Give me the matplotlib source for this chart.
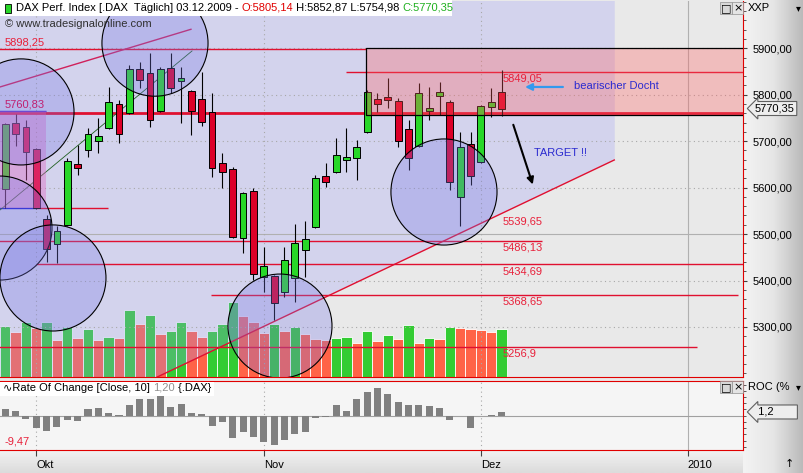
import numpy as np
import pandas as pd
import matplotlib
matplotlib.use("Agg")
import matplotlib.pyplot as plt
from matplotlib.patches import Rectangle, Ellipse, Polygon
from matplotlib.colors import LinearSegmentedColormap
from matplotlib.ticker import MultipleLocator, FixedLocator, FuncFormatter
from matplotlib.transforms import blended_transform_factory

plt.rcParams['font.family'] = ['Liberation Sans', 'DejaVu Sans']

# ---- DAX daily candles, 28.09.2009 - 03.12.2009 ----
opens = [5597, 5739, 5730, 5683, 5532, 5479, 5520, 5651, 5681, 5700, 5728, 5780, 5761, 5855, 5847, 5765, 5858,
         5830, 5808, 5791, 5763, 5653, 5640, 5492, 5593, 5408, 5410, 5375, 5406, 5466, 5515, 5625, 5634, 5660,
         5664, 5720, 5791, 5795, 5787, 5726, 5690, 5765, 5797, 5784, 5580, 5694, 5655, 5774, 5805.14]
highs = [5740, 5759, 5746, 5685, 5541, 5517, 5664, 5692, 5728, 5750, 5817, 5789, 5864, 5870, 5890, 5860, 5890,
         5860, 5810, 5849, 5804, 5675, 5644, 5590, 5600, 5472, 5412, 5472, 5522, 5528, 5627, 5653, 5707, 5728,
         5703, 5810, 5804, 5836, 5793, 5746, 5825, 5817, 5827, 5789, 5720, 5720, 5778, 5815, 5852.87]
lows = [5556, 5690, 5616, 5553, 5440, 5438, 5518, 5627, 5666, 5675, 5726, 5696, 5759, 5815, 5730, 5763, 5804,
        5739, 5713, 5733, 5623, 5600, 5492, 5460, 5401, 5375, 5315, 5364, 5354, 5408, 5513, 5601, 5632, 5634,
        5616, 5718, 5763, 5771, 5687, 5638, 5688, 5746, 5756, 5595, 5517, 5606, 5653, 5752, 5754.98]
closes = [5737, 5715, 5677, 5556, 5468, 5507, 5657, 5642, 5715, 5711, 5784, 5715, 5855, 5832, 5746, 5855, 5815,
          5836, 5765, 5741, 5642, 5634, 5494, 5589, 5414, 5431, 5352, 5444, 5481, 5489, 5621, 5612, 5670, 5666,
          5688, 5806, 5780, 5789, 5700, 5664, 5804, 5771, 5806, 5612, 5688, 5625, 5776, 5784, 5770.35]

# volume (chart units) and colour of each volume bar (1 = green, 0 = red)
volume = [51, 45, 55, 49, 55, 37, 50, 39, 48, 37, 40, 39, 67, 53, 62, 43, 46, 55, 46, 40, 46, 53, 75, 61, 55,
          44, 53, 46, 50, 43, 38, 37, 39, 40, 34, 46, 36, 42, 38, 52, 34, 39, 38, 50, 49, 48, 47, 45, 48]
vol_up = [1, 0, 1, 0, 1, 0, 1, 0, 1, 0, 1, 0, 1, 0, 1, 0, 1, 1, 0, 0, 1, 1, 1, 0, 0,
          0, 1, 0, 1, 0, 0, 0, 1, 1, 0, 1, 0, 1, 0, 1, 0, 1, 0, 1, 0, 0, 0, 0, 1]

# Rate of change [Close, 10] in %
roc = [2.03, 1.61, -0.97, -3.87, -4.84, -3.55, -1.39, -1.71, 2.16, 2.48, 0.97, 0.15, 3.55, 5.26, 5.39, 6.68,
       2.81, 3.77, 0.97, 0.65, -3.23, -1.94, -7.10, -5.26, -6.77, -8.39, -9.47, -7.74, -5.81, -5.26, -0.65,
       -0.55, 3.45, 1.52, 5.39, 7.65, 8.94, 7.00, 4.42, 3.45, 3.45, 3.13, 2.48, -1.39, -0.10, -3.87, -0.10,
       0.10, 1.20]

# user drawn levels: (price, from bar, to bar, colour, width)
levels = [(5898.25, -1, 34.9, '#E01030', 1.0),
          (5849.05, 33.0, 80, '#E01030', 1.0),
          (5760.83, -1, 80, '#E01030', 2.0),
          (5556.0, 3.0, 9.9, '#E01030', 1.0),
          (5486.13, -1, 51.9, '#E01030', 1.0),
          (5434.69, 3.0, 80, '#E01030', 1.0),
          (5368.65, 19.9, 70.9, '#E01030', 1.0),
          (5256.9, -1, 66.9, '#E01030', 1.0),
          (5765.0, -1, 3.94, '#2020D0', 1.0),
          (5556.0, -1, 2.97, '#2020D0', 1.0)]
level_labels = [('5898,25', -0.06, 5913), ('5760,83', -0.06, 5778), ('5849,05', 48.1, 5836),
                ('5539,65', 48.1, 5528), ('5486,13', 48.1, 5472), ('5434,69', 48.1, 5420),
                ('5368,65', 48.1, 5354), ('5256,9', 48.1, 5242)]

# trend lines (bar, price) -> (bar, price)
trend_lines = [((14.7, 5192.3), (58.9, 5659.5), '#E01030', 1.0),
               ((-0.51, 5816.7), (17.96, 5940.9), '#D0205A', 1.0),
               ((-0.51, 5551.9), (18.06, 5894.2), '#206020', 0.6)]
# circles: centre bar, centre price, radius in bars
circles = [(1.52, 5763, 5.13), (14.48, 5911, 5.13), (-0.51, 5513, 5.03),
           (4.61, 5405.5, 5.13), (26.57, 5302, 5.03), (42.43, 5590.6, 5.13)]

# session calendar incl. the empty space to the right (Xetra holidays skipped)
dates = pd.bdate_range('2009-09-28', '2009-12-03')
future = pd.bdate_range('2009-12-04', '2010-01-20', freq='C',
                        holidays=['2009-12-24', '2009-12-25', '2009-12-31', '2010-01-01'])
all_dates = dates.append(future)
month_names = {10: 'Okt', 11: 'Nov', 12: 'Dez'}
tick_pos, tick_lab = [], []
for i in range(1, len(all_dates)):
    if all_dates[i].month != all_dates[i - 1].month:
        tick_pos.append(i)
        tick_lab.append(str(all_dates[i].year) if all_dates[i].month == 1 else month_names[all_dates[i].month])

x = np.arange(len(closes))
XLIM = (-0.51, 71.35)
YLIM = (5192.3, 6001.8)

W, H = 804, 473
def box(x0, y0, x1, y1):
    return [x0 / W, 1 - y1 / H, (x1 - x0) / W, (y1 - y0) / H]

fig = plt.figure(figsize=(8.04, 4.73), dpi=100, facecolor='#E9E9E9')

# grey gradient behind the scales
bg_r = fig.add_axes(box(743, 0, 804, 473), zorder=-5)
bg_r.imshow(np.linspace(0, 1, 64)[None, :], aspect='auto', extent=[0, 1, 0, 1],
            cmap=LinearSegmentedColormap.from_list('g', ['#F3F3F3', '#E6E6E6', '#B9B9B9']))
bg_r.axis('off')
bg_b = fig.add_axes(box(0, 451, 743, 473), zorder=-5)
bg_b.imshow(np.linspace(0, 1, 16)[:, None], aspect='auto', extent=[0, 1, 0, 1],
            cmap=LinearSegmentedColormap.from_list('g2', ['#F2F2F2', '#DCDCDC']))
bg_b.axis('off')

ax_vol = fig.add_axes(box(0, 1, 743, 377), zorder=0)
ax = fig.add_axes(box(0, 1, 743, 377), zorder=1)
ax_roc = fig.add_axes(box(0, 381, 743, 450), zorder=1)
ax.patch.set_visible(False)
ax_vol.set_facecolor('#F5F5F5')
ax_roc.set_facecolor('#F5F5F5')

# volume
ax_vol.bar(x, volume, width=1.0, color=['#33CC33' if u else '#FF6347' for u in vol_up],
           edgecolor='white', linewidth=0.6)
ax_vol.set_xlim(XLIM)
ax_vol.set_ylim(0, 376)
ax_vol.axis('off')

ax.set_xlim(XLIM)
ax.set_ylim(YLIM)

# lavender zone above the rising trend line
ax.add_patch(Polygon([(-1, 6100), (58.95, 6100), (58.95, 5659.5), (14.7, 5192.3), (14.7 - 2, 5150), (-1, 5150)],
                     closed=True, fc=(150 / 255, 150 / 255, 250 / 255), alpha=0.26, ec='none', zorder=1))

# grid
for p in range(5300, 6000, 100):
    if p == 5500:
        ax.axhline(p, color='#B0B0B0', lw=0.8, zorder=2)
    else:
        ax.axhline(p, color='#A8A8A8', lw=0.8, ls=(0, (1, 3)), zorder=2)
for t, lab in zip(tick_pos, tick_lab):
    for a in (ax, ax_roc):
        if lab.isdigit():
            a.axvline(t, color='#B0B0B0', lw=0.8, zorder=2)
        else:
            a.axvline(t, color='#A8A8A8', lw=0.8, ls=(0, (1, 3)), zorder=2)

# levels and trend lines
for p, x0, x1, c, lw in levels:
    ax.hlines(p, x0, x1, colors=c, lw=lw, zorder=4)
for (x0, y0), (x1, y1), c, lw in trend_lines:
    ax.plot([x0, x1], [y0, y1], color=c, lw=lw, zorder=4)
for txt, bx, py in level_labels:
    ax.text(bx, py, txt, color='#C02070' if txt == '5760,83' else '#E8203A', fontsize=8,
            ha='left', va='center', zorder=9)

# candles
up = [c >= o for o, c in zip(opens, closes)]
ax.vlines(x, lows, highs, colors='black', lw=0.8, zorder=5)
bottoms = [min(o, c) for o, c in zip(opens, closes)]
heights = [max(abs(c - o), 2) for o, c in zip(opens, closes)]
ax.bar(x, heights, bottom=bottoms, width=0.66, color=['#28D728' if u else '#DC0028' for u in up],
       edgecolor='black', linewidth=0.7, zorder=6)

# shaded boxes
ax.add_patch(Rectangle((34.9, 5757), 40, 143, fc='#FF6060', alpha=0.32, ec='none', zorder=7))
ax.plot([80, 34.9, 34.9, 80], [5900, 5900, 5757, 5757], color='black', lw=0.9, zorder=7)
ax.add_patch(Rectangle((-1, 5556), 4.94, 209, fc='#E060C0', alpha=0.38, ec='none', zorder=7))

# circles (kept round on screen)
p0 = ax.transData.transform((0, 5500))
p1 = ax.transData.transform((1, 5600))
ratio = (p1[0] - p0[0]) / ((p1[1] - p0[1]) / 100.0)
for cx, cy, r in circles:
    ax.add_patch(Ellipse((cx, cy), 2 * r, 2 * r * ratio, fc=(120 / 255, 120 / 255, 230 / 255), alpha=0.3,
                         ec='none', zorder=7))
    ax.add_patch(Ellipse((cx, cy), 2 * r, 2 * r * ratio, fc='none', ec='black', lw=0.8, zorder=7))

# annotations
ax.annotate('', xy=(50.0, 5816.7), xytext=(54.2, 5816.7),
            arrowprops=dict(arrowstyle='-|>', color='#3399EE', lw=1.6, mutation_scale=10), zorder=9)
ax.text(54.96, 5818, 'bearischer Docht', color='#2B2BD0', fontsize=8, ha='left', va='center', zorder=9)
ax.annotate('', xy=(51.1, 5601), xytext=(49.05, 5741),
            arrowprops=dict(arrowstyle='-|>', color='black', lw=1.5, mutation_scale=10), zorder=9)
ax.text(51.1, 5675, 'TARGET !!', color='#2B2BD0', fontsize=8, ha='left', va='center', zorder=9)

# price scale on the right
ax.yaxis.tick_right()
ax.yaxis.set_major_locator(FixedLocator(list(range(5300, 6000, 100))))
ax.yaxis.set_minor_locator(MultipleLocator(20))
ax.yaxis.set_major_formatter(FuncFormatter(lambda v, pos: f'{v:.2f}'.replace('.', ',')))
ax.tick_params(axis='y', which='major', length=3, color='#404040', labelsize=8, pad=4)
ax.tick_params(axis='y', which='minor', length=2, color='#404040')
ax.set_xticks([])
for s in ('top', 'left'):
    ax.spines[s].set_visible(False)
for s in ('right', 'bottom'):
    ax.spines[s].set_color('#E00000')

tr = blended_transform_factory(ax.transAxes, ax.transData)
ax.text(1.016, closes[-1], f'{closes[-1]:.2f}'.replace('.', ','), transform=tr, fontsize=8, ha='left',
        va='center', zorder=10, clip_on=False,
        bbox=dict(boxstyle='larrow,pad=0.18', fc='#EEEEEE', ec='#606060', lw=0.8))

# ROC panel
ax_roc.bar(x, roc, width=0.68, color='#808080', zorder=3)
ax_roc.axhline(0, color='#A0A0A0', lw=0.8, zorder=2)
ax_roc.set_xlim(XLIM)
ax_roc.set_ylim(-11.06, 11.19)
ax_roc.yaxis.tick_right()
ax_roc.set_yticks([])
ax_roc.yaxis.set_minor_locator(MultipleLocator(2))
ax_roc.tick_params(axis='y', which='minor', length=2, color='#404040')
ax_roc.set_xticks(tick_pos)
ax_roc.set_xticklabels(tick_lab, ha='left')
ax_roc.tick_params(axis='x', length=4, color='#404040', labelsize=8, pad=3)
ax_roc.spines['left'].set_visible(False)
for s in ('top', 'right', 'bottom'):
    ax_roc.spines[s].set_color('#E00000')
ax_roc.text(-0.06, -8.16, '-9,47', color='#E8203A', fontsize=8, ha='left', va='center')
trr = blended_transform_factory(ax_roc.transAxes, ax_roc.transData)
ax_roc.text(1.016, roc[-1], ' ' + f'{roc[-1]:.1f}'.replace('.', ',') + '       ', transform=trr, fontsize=8,
            ha='left', va='center', zorder=10, clip_on=False,
            bbox=dict(boxstyle='larrow,pad=0.18', fc='#EEEEEE', ec='#606060', lw=0.8))

# header boxes and texts
fig.add_artist(Rectangle((0, 1 - 16 / H), 452 / W, 16 / H, transform=fig.transFigure, fc='white', ec='none',
                         zorder=20))
fig.add_artist(Rectangle((0, 1 - 396 / H), 214 / W, 14 / H, transform=fig.transFigure, fc='white', ec='none',
                         zorder=20))
fig.add_artist(Rectangle((5 / W, 1 - 13 / H), 6 / W, 9 / H, transform=fig.transFigure, fc='#28D728',
                         ec='black', lw=0.6, zorder=21))

renderer = fig.canvas.get_renderer()

def chain(parts, x0, y0):
    # multi coloured text line, each piece starts where the previous one ends
    xpos = x0
    for s, c in parts:
        t = fig.text(xpos / W, 1 - y0 / H, s, color=c, fontsize=8, va='center', ha='left', zorder=22)
        bb = t.get_window_extent(renderer)
        xpos = bb.x1

chain([('DAX Perf. Index [.DAX  Täglich] 03.12.2009 - ', 'black'), ('O:5805,14', '#E00000'),
       (' H:5852,87 L:5754,98 ', 'black'), ('C:5770,35', '#20B020')], 16, 8)
fig.text(5 / W, 1 - 24 / H, '© www.tradesignalonline.com', fontsize=8, color='#303030', va='center', zorder=22)
chain([('\u223fRate Of Change [Close, 10] ', 'black'), ('1,20', '#909090'), (' {.DAX}', 'black')], 3, 388)

for yy, lab in ((8, 'XXP'), (387, 'ROC (%')):
    fig.text(748 / W, 1 - yy / H, lab, fontsize=8, va='center', zorder=22)
    fig.text(796 / W, 1 - yy / H, '\u25be', fontsize=7, va='center', zorder=22, family='DejaVu Sans')
    fig.text(721 / W, 1 - yy / H, '\u25a1', fontsize=8, va='center', zorder=22, family='DejaVu Sans',
             bbox=dict(boxstyle='square,pad=0.05', fc='#D8D8D8', ec='#909090', lw=0.5))
    fig.text(733 / W, 1 - yy / H, '\u00d7', fontsize=8, va='center', zorder=22, family='DejaVu Sans',
             bbox=dict(boxstyle='square,pad=0.05', fc='#E4E4E4', ec='#909090', lw=0.5))
fig.text(785 / W, 1 - 464 / H, '\u2191', fontsize=8, va='center', zorder=22, family='DejaVu Sans')

fig.savefig('out.png', dpi=100, facecolor=fig.get_facecolor())
